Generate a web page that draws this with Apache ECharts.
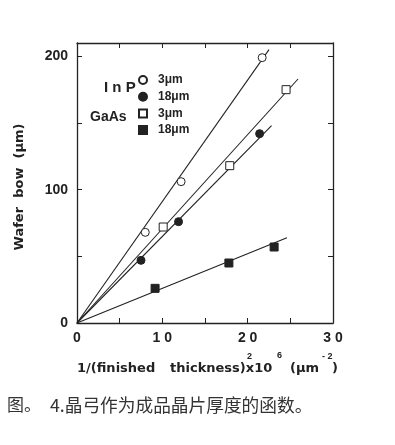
<!DOCTYPE html>
<html><head><meta charset="utf-8">
<script src="https://cdn.jsdelivr.net/npm/echarts@6/dist/echarts.min.js"></script>
<style>html,body{margin:0;padding:0;background:#fff}#c{width:395px;height:445px}</style>
</head><body><div id="c"></div>
<script>
// Data: [x = 1/t^2 x10^6 (um^-2), y = wafer bow (um)]
var inp3 = [[8.0, 68], [12.2, 106], [21.7, 199]];
var inp18 = [[7.5, 47], [11.9, 76], [21.4, 142]];
var gaas3 = [[10.1, 72], [17.9, 118], [24.5, 175]];
var gaas18 = [[9.15, 26], [17.8, 45], [23.1, 57]];
// Fitted lines through origin (end points)
var fitInp3 = [[0, 0], [22.5, 205]];
var fitInp18 = [[0, 0], [22.8, 148]];
var fitGaas3 = [[0, 0], [25.9, 183]];
var fitGaas18 = [[0, 0], [24.6, 64]];
var xTicks = [0, 10, 20, 30];
var yTicks = [0, 100, 200];

var ink = '#222';
var font = 'Liberation Sans, Arial, sans-serif';
var wide = '"DejaVu Sans", sans-serif';
var chart = echarts.init(document.getElementById('c'));

function fitSeries(d) {
  return {type: 'line', data: d, symbol: 'none', silent: true,
    lineStyle: {color: ink, width: 1.1}, z: 2};
}
function ptSeries(name, d, sym, filled) {
  return {name: name, type: 'scatter', data: d, symbol: sym, symbolSize: 8,
    itemStyle: {color: filled ? ink : '#fff', borderColor: ink, borderWidth: 1, opacity: 1}, z: 3};
}
var tickLbl = {fontFamily: font, fontWeight: 'bold', fontSize: 14, color: ink};
var axLine = {show: true, onZero: false, lineStyle: {color: ink, width: 1.3}};
var axTick = {show: true, inside: true, length: 5, lineStyle: {color: ink}};

chart.setOption({
  animation: false,
  grid: {left: 77, right: 62, top: 43, bottom: 122},
  xAxis: [{
    type: 'value', min: 0, max: 30, interval: 5,
    axisLine: axLine, axisTick: axTick, splitLine: {show: false},
    axisLabel: Object.assign({margin: 8, formatter: function (v) {
      return xTicks.indexOf(v) >= 0 ? String(v).split('').join(' ') : '';
    }}, tickLbl)
  }, {
    type: 'value', min: 0, max: 30, interval: 5, position: 'top',
    axisLine: axLine, axisTick: axTick, splitLine: {show: false}, axisLabel: {show: false}
  }],
  yAxis: [{
    type: 'value', min: 0, max: 210, interval: 50,
    axisLine: axLine, axisTick: axTick, splitLine: {show: false},
    axisLabel: Object.assign({margin: 9, showMaxLabel: false, formatter: function (v) {
      return yTicks.indexOf(v) >= 0 ? String(v) : '';
    }}, tickLbl)
  }, {
    type: 'value', min: 0, max: 210, interval: 50, position: 'right',
    axisLine: axLine, axisTick: axTick, splitLine: {show: false}, axisLabel: {show: false}
  }],
  legend: {
    orient: 'vertical', left: 138, top: 74, itemWidth: 8, itemHeight: 8, itemGap: 4.7, padding: 0,
    data: [
      {name: 'InP 3μm', icon: 'circle'}, {name: 'InP 18μm', icon: 'circle'},
      {name: 'GaAs 3μm', icon: 'rect'}, {name: 'GaAs 18μm', icon: 'rect'}
    ],
    formatter: function (n) { return n.split(' ')[1]; },
    textStyle: {fontFamily: font, fontWeight: 'bold', fontSize: 12, lineHeight: 12, color: ink, padding: [0, 0, 0, 6]},
    selectedMode: false
  },
  series: [
    fitSeries(fitInp3), fitSeries(fitInp18), fitSeries(fitGaas3), fitSeries(fitGaas18),
    ptSeries('InP 3μm', inp3, 'circle', false),
    ptSeries('InP 18μm', inp18, 'circle', true),
    ptSeries('GaAs 3μm', gaas3, 'rect', false),
    ptSeries('GaAs 18μm', gaas18, 'rect', true)
  ],
  graphic: [
    {type: 'text', left: 104, top: 80, style: {text: 'I n P', font: 'bold 15px ' + font, fill: ink}},
    {type: 'text', left: 90, top: 110, style: {text: 'GaAs', font: 'bold 14px ' + font, fill: ink}},
    {type: 'text', x: 20, y: 187, rotation: Math.PI / 2,
      style: {text: 'Wafer  bow  (μm)', font: 'bold 13px ' + wide, fill: ink, align: 'center', verticalAlign: 'middle'}},
    {type: 'text', x: 77, y: 369, style: {text: '1/(finished', font: 'bold 13px ' + wide, fill: ink, verticalAlign: 'middle'}},
    {type: 'text', x: 170, y: 369, style: {text: 'thickness)x10', font: 'bold 13px ' + wide, fill: ink, verticalAlign: 'middle'}},
    {type: 'text', x: 247, y: 357, style: {text: '2', font: 'bold 9px ' + font, fill: ink, verticalAlign: 'middle'}},
    {type: 'text', x: 277, y: 356, style: {text: '6', font: 'bold 9px ' + font, fill: ink, verticalAlign: 'middle'}},
    {type: 'text', x: 290, y: 369, style: {text: '(μm', font: 'bold 13px ' + wide, fill: ink, verticalAlign: 'middle'}},
    {type: 'text', x: 322, y: 357, style: {text: '- 2', font: 'bold 9px ' + font, fill: ink, verticalAlign: 'middle'}},
    {type: 'text', x: 332, y: 369, style: {text: ')', font: 'bold 13px ' + wide, fill: ink, verticalAlign: 'middle'}},
    {type: 'text', x: 7, y: 405, style: {text: '图。', font: '17px "Noto Sans CJK SC"', fill: '#333', verticalAlign: 'middle'}},
    {type: 'text', x: 50, y: 405, style: {text: '4.晶弓作为成品晶片厚度的函数。', font: '17.7px "Noto Sans CJK SC"', fill: '#333', verticalAlign: 'middle'}}
  ]
});
</script></body></html>
